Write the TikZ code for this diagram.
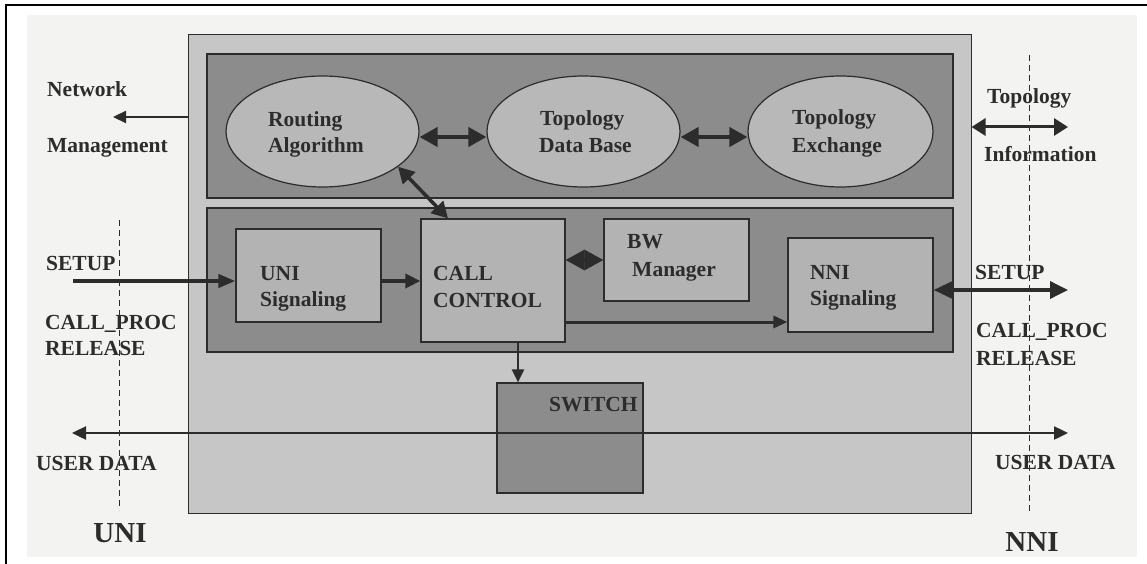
\documentclass[tikz,border=0pt]{standalone}
\usepackage{fontspec}
\setmainfont{Liberation Serif}
\usetikzlibrary{arrows.meta,shapes.geometric,calc}
\definecolor{pagec}{HTML}{F3F3F1}
\definecolor{outerc}{HTML}{C6C6C6}
\definecolor{panelc}{HTML}{8C8C8C}
\definecolor{boxc}{HTML}{B3B3B3}
\definecolor{ellc}{HTML}{B8B8B8}
\definecolor{ink}{HTML}{2C2C2C}
\begin{document}
\begin{tikzpicture}[x=1pt,y=-1pt,
  lbl/.style={font=\bfseries\fontsize{21.5}{26}\selectfont, text=ink, inner sep=0pt, anchor=base west},
  biglbl/.style={font=\bfseries\fontsize{29}{32}\selectfont, text=ink, inner sep=0pt, anchor=base},
  panel/.style={draw=ink, line width=1.3pt, fill=panelc, inner sep=0pt},
  blk/.style={draw=ink, line width=1.2pt, fill=boxc, inner sep=0pt},
  ell/.style={ellipse, draw=ink, line width=1.2pt, fill=ellc, inner sep=0pt},
  arrbig/.style={draw=ink, line width=4pt, {Triangle[length=18pt,width=19pt]}-{Triangle[length=18pt,width=19pt]}},
  arrmid/.style={draw=ink, line width=3.5pt, -{Triangle[length=15pt,width=14pt]}},
  arrthin/.style={draw=ink, line width=2.2pt, -{Triangle[length=13pt,width=12pt]}},
  dashline/.style={draw=ink, line width=1pt, dash pattern=on 6pt off 4pt}
]
\useasboundingbox (0,0) rectangle (1147,564);
\fill[white] (0,0) rectangle (1147,564);
\fill[pagec] (27,15) rectangle (1137,557);
\draw[black, line width=2pt] (6,564) -- (6,5) -- (1147,5);

% containers
\node[draw=ink, line width=1pt, fill=outerc, minimum width=783pt, minimum height=478pt, inner sep=0pt] (outer) at (579.5,274) {};
\node[panel, minimum width=746pt, minimum height=144pt] (toppan) at (580,126) {};
\node[panel, minimum width=746pt, minimum height=144pt] (botpan) at (580,280) {};

% ellipses
\node[ell, minimum width=193pt, minimum height=111pt] (ra) at (322.5,131.5) {};
\node[ell, minimum width=193pt, minimum height=111pt] (tdb) at (583.5,131.5) {};
\node[ell, minimum width=185pt, minimum height=111pt] (te) at (840.5,131.5) {};

% boxes
\node[blk, minimum width=145pt, minimum height=93pt] (uni) at (308.5,275.5) {};
\node[blk, minimum width=144pt, minimum height=123pt] (cc) at (493,280.5) {};
\node[blk, minimum width=145pt, minimum height=82pt] (bw) at (676.5,260) {};
\node[blk, minimum width=145pt, minimum height=94pt] (nni) at (860.5,285) {};
\node[draw=ink, line width=1.2pt, fill=panelc, inner sep=0pt, minimum width=146pt, minimum height=110pt] (sw) at (570,438) {};

% texts in shapes
\node[lbl] (raA) at (268,127) {Routing};
\node[lbl] (raB) at (268,153) {Algorithm};
\node[lbl] (tdbA) at (540,126) {Topology};
\node[lbl] (tdbB) at (539,153) {Data Base};
\node[lbl] (teA) at (792,125) {Topology};
\node[lbl] (teB) at (792,153) {Exchange};
\node[lbl] (uniA) at (260,280) {UNI};
\node[lbl] (uniB) at (260,306) {Signaling};
\node[lbl] (ccA) at (433,280) {CALL};
\node[lbl] (ccB) at (433,307) {CONTROL};
\node[lbl] (bwA) at (627,248) {BW};
\node[lbl] (bwB) at (632,276) {Manager};
\node[lbl] (nniA) at (810,279) {NNI};
\node[lbl] (nniB) at (810,305) {Signaling};
\node[lbl] (swA) at (549,411) {SWITCH};

% outside labels
\node[lbl] (nmA) at (47,97) {Network};
\node[lbl] (nmB) at (47,153) {Management};
\node[lbl] (suL) at (46,270) {SETUP};
\node[lbl] (cpL) at (45,329) {CALL\_PROC};
\node[lbl] (rlL) at (45,355) {RELEASE};
\node[lbl] (udLt) at (36,470) {USER DATA};
\node[biglbl] (uniLbl) at (120,542) {UNI};
\node[lbl] (tiA) at (987,104) {Topology};
\node[lbl] (tiB) at (984,162) {Information};
\node[lbl] (suR) at (975,279) {SETUP};
\node[lbl] (cpR) at (976,337) {CALL\_PROC};
\node[lbl] (rlR) at (976,365) {RELEASE};
\node[lbl] (udRt) at (995,469) {USER DATA};
\node[biglbl] (nniLbl) at (1032,551) {NNI};

% free ends / levels
\coordinate (nmEnd) at (113,117);
\coordinate (tiEnd) at (1068,127);
\coordinate (suStart) at (73,281);
\coordinate (cnY) at (0,322);
\coordinate (nsEnd) at (1068,290);
\coordinate (csX) at (518,0);
\coordinate (udL) at (72,433);
\coordinate (udR) at (1068,433);
\coordinate (uniT) at (119,220);
\coordinate (uniBt) at (119,510);
\coordinate (nniT) at (1029,55);
\coordinate (nniBt) at (1029,513);

% connectors
\draw[arrthin] (outer.west |- nmEnd) -- (nmEnd);
\draw[arrbig] ([yshift=-5.5pt]ra.east) -- ([yshift=-5.5pt]tdb.west);
\draw[arrbig] ([yshift=-5.5pt]tdb.east) -- ([yshift=-5.5pt]te.west);
\draw[arrbig, line width=3.5pt, {Triangle[length=16pt,width=17pt]}-{Triangle[length=16pt,width=17pt]}] (ra.-25) -- ($(cc.north west)!0.19!(cc.north east)$);
\draw[draw=ink, line width=3pt, {Triangle[length=14pt,width=17pt]}-{Triangle[length=14pt,width=17pt]}] (outer.east |- tiEnd) -- (tiEnd);
\draw[arrmid, line width=4pt, -{Triangle[length=17pt,width=13pt]}] (suStart) -- (uni.west |- suStart);
\draw[arrmid] (uni.east |- suStart) -- (cc.west |- suStart);
\draw[arrbig, line width=3pt, {Triangle[length=19pt,width=20pt]}-{Triangle[length=19pt,width=20pt]}] (cc.east |- bw.west) -- (bw.west);
\draw[arrmid, line width=3pt, -{Triangle[length=14pt,width=12pt]}] (cc.east |- cnY) -- (nni.west |- cnY);
\draw[draw=ink, line width=3.5pt, {Triangle[length=19pt,width=17pt]}-{Triangle[length=18pt,width=17pt]}] (nni.east |- nsEnd) -- (nsEnd);
\draw[arrthin] (cc.south -| csX) -- (sw.north -| csX);
\draw[draw=ink, line width=2.4pt, {Triangle[length=14pt,width=13pt]}-{Triangle[length=14pt,width=13pt]}] (udL) -- (udR);

% interface lines
\draw[dashline] (uniT) -- (uniBt);
\draw[dashline] (nniT) -- (nniBt);
\end{tikzpicture}
\end{document}
